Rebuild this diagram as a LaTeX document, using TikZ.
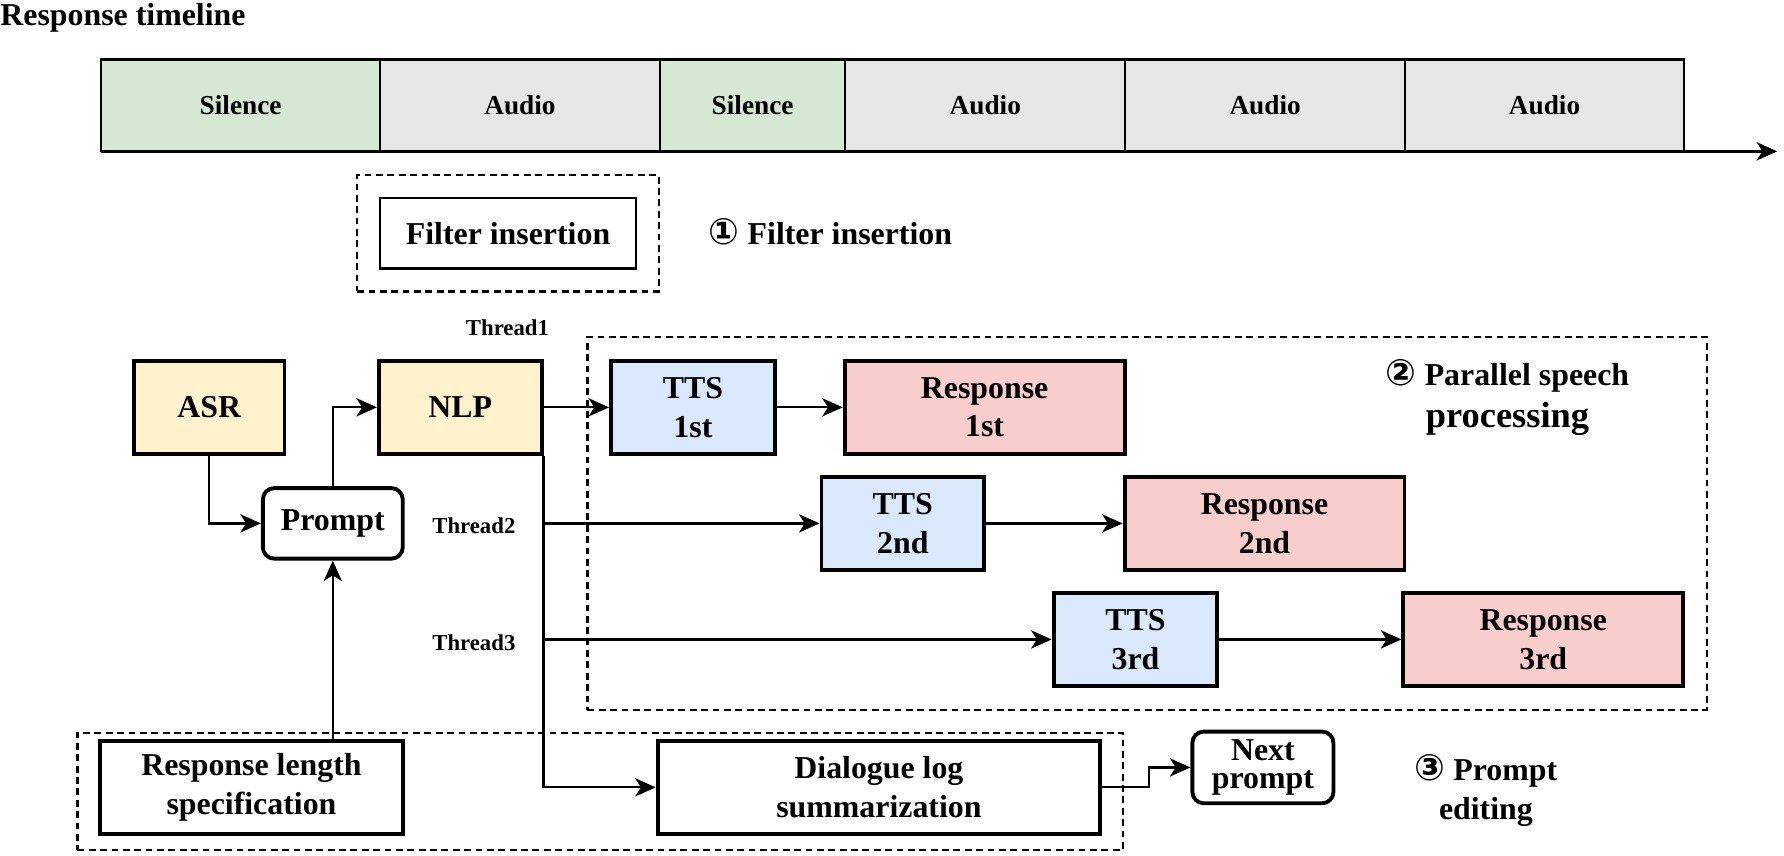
\documentclass[tikz,border=0pt]{standalone}
\usepackage{fontspec}
\setmainfont{Liberation Serif}
\newfontfamily\circfont{DejaVu Sans}
\usetikzlibrary{arrows.meta, positioning, fit}
\definecolor{silgreen}{RGB}{213, 232, 212}
\definecolor{audgray}{RGB}{230, 230, 230}
\definecolor{modyellow}{RGB}{255, 242, 204}
\definecolor{ttsblue}{RGB}{218, 232, 252}
\definecolor{resred}{RGB}{248, 206, 204}

\begin{document}
\begin{tikzpicture}[x=0.5pt, y=-0.5pt,
    slot/.style={draw, line width=0.8pt, outer sep=0pt, inner sep=0pt, minimum height=40.5pt,
                 font=\fontsize{12}{14}\selectfont\bfseries},
    box/.style={draw, line width=1.7pt, align=center, inner sep=0pt, minimum height=41pt,
                font=\fontsize{14}{17}\selectfont\bfseries},
    rbox/.style={box, rounded corners=5pt},
    grp/.style={draw, line width=1pt, dash pattern=on 3pt off 2pt, inner sep=0pt},
    note/.style={align=center, font=\fontsize{14}{17}\selectfont\bfseries},
    tag/.style={font=\fontsize{10}{12}\selectfont\bfseries},
    arr/.style={-{Stealth[length=9pt, width=8pt, inset=2.5pt]}, line width=1pt}
  ]
    \useasboundingbox (0,0) rectangle (1568,752);

    % response timeline
    \node[anchor=west, inner sep=0pt, font=\fontsize{14}{17}\selectfont\bfseries] (title) at (0,16) {Response timeline};
    \node[slot, fill=silgreen, minimum width=122.5pt] (s1) at (211.5,92.5) {Silence};
    \node[slot, fill=audgray, minimum width=123pt, right=0pt of s1] (s2) {Audio};
    \node[slot, fill=silgreen, minimum width=81.5pt, right=0pt of s2] (s3) {Silence};
    \node[slot, fill=audgray, minimum width=123pt, right=0pt of s3] (s4) {Audio};
    \node[slot, fill=audgray, minimum width=123pt, right=0pt of s4] (s5) {Audio};
    \node[slot, fill=audgray, minimum width=122.5pt, right=0pt of s5] (s6) {Audio};
    \coordinate (tend) at (1562,133);
    \draw[line width=1.2pt] (s1.north west) -- (s6.north east);
    \draw[line width=1.2pt] (s1.south west) -- (s6.south east);
    \draw[arr, line width=1.2pt] (s6.south east) -- (tend);

    % filter insertion
    \node[box, line width=1.1pt, minimum width=112.5pt, minimum height=31pt] (filt) at (446.5,205) {Filter insertion};
    \node[grp, fit=(filt), inner sep=9.5pt] (grp1) {};
    \node[note, anchor=west] (lab1) at (616,204) {{\circfont\fontsize{16}{17}\selectfont ①} Filter insertion};

    % modules
    \node[box, fill=modyellow, minimum width=66pt] (asr) at (184,358) {ASR};
    \node[box, fill=modyellow, minimum width=71.5pt] (nlp) at (404.5,358) {NLP};
    \node[rbox, minimum width=61.5pt, minimum height=31pt] (prompt) at (292.5,460) {Prompt};
    \node[tag] (th1) at (446,288) {Thread1};
    \node[tag] (th2) at (416.5,462) {Thread2};
    \node[tag] (th3) at (416.5,565) {Thread3};

    % parallel speech
    \node[box, fill=ttsblue, minimum width=72pt] (tts1) at (609,358) {TTS\\1st};
    \node[box, fill=resred, minimum width=123pt, right=29pt of tts1] (res1) {Response\\1st};
    \node[box, fill=ttsblue, minimum width=71.5pt] (tts2) at (793.5,460) {TTS\\2nd};
    \node[box, fill=resred, minimum width=123pt, right=60pt of tts2] (res2) {Response\\2nd};
    \node[box, fill=ttsblue, minimum width=72pt] (tts3) at (998,562) {TTS\\3rd};
    \node[box, fill=resred, minimum width=123pt, right=80pt of tts3] (res3) {Response\\3rd};
    \node[grp, fit=(tts1)(res3), inner sep=9.5pt] (grp2) {};
    \node[note] (lab2) at (1325,349) {{\circfont\fontsize{16}{17}\selectfont ②} Parallel speech\\[1.5pt]{\fontsize{16}{19}\selectfont processing}};

    % prompt editing
    \node[box, minimum width=133pt] (lenspec) at (221,692) {Response length\\specification};
    \node[box, minimum width=194.5pt] (dialog) at (772.5,692) {Dialogue log\\summarization};
    \node[rbox, minimum width=62pt, minimum height=31.5pt, font=\fontsize{14}{12.5}\selectfont\bfseries] (next) at (1110,674.5) {Next\\prompt};
    \node[grp, fit={(68,644) (987,747)}] (grp3) {};
    \node[note] (lab3) at (1306,695) {{\circfont\fontsize{16}{17}\selectfont ③} Prompt\\editing};

    \draw[arr] (asr.south) |- (prompt.west);
    \draw[arr] (prompt.north) |- (nlp.west);
    \draw[arr] (nlp.east) -- (tts1.west);
    \draw[arr] (tts1) -- (res1);
    \draw[arr] (tts2) -- (res2);
    \draw[arr] (tts3) -- (res3);
    \draw[arr] (nlp.south east) |- (dialog.west);
    \draw[arr] (nlp.south east |- tts2) -- (tts2.west);
    \draw[arr] (nlp.south east |- tts3) -- (tts3.west);
    \draw[arr] (prompt |- lenspec.north) -- (prompt.south);
    \draw[arr] (dialog.east) -- ++(41,0) |- (next.west);
  \end{tikzpicture}
\end{document}
